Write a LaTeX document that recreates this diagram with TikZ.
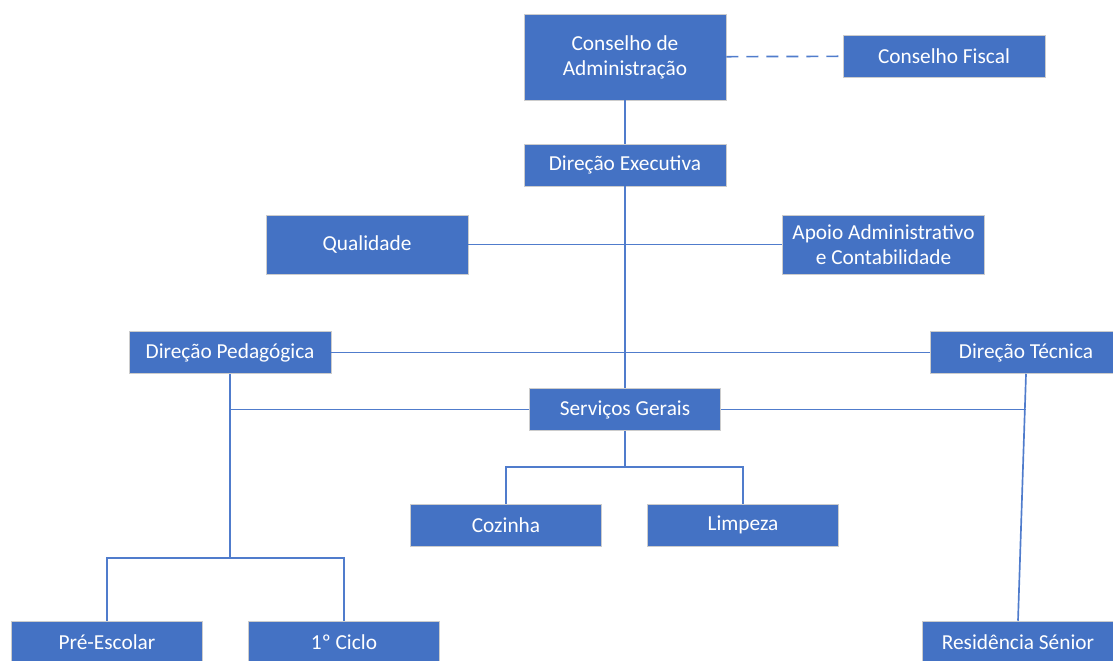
\documentclass[tikz,border=0pt]{standalone}
\usepackage{fontspec}
\setmainfont{Carlito}
\definecolor{orgblue}{RGB}{68,114,196}
\definecolor{orgline}{RGB}{80,124,204}
\tikzset{every picture/.style={line width=0.75pt}}
\tikzset{
  unit/.style={draw=black!20, line width=0.4pt, fill=orgblue, text=white, align=center,
    inner sep=0.75pt, font=\fontsize{16}{18.75}\selectfont, minimum height=31.5pt},
  wide/.style={unit, minimum width=151.5pt},
  narrow/.style={unit, minimum width=143.25pt},
  link/.style={draw=orgline, line width=1.25pt}
}
\begin{document}
\begin{tikzpicture}[x=0.75pt,y=0.75pt,yscale=-1,xscale=1]
\useasboundingbox (0,0) rectangle (1113,660);

%Shape: Rectangle [id:ca]
\node [wide, minimum height=64.5pt] (ca) at (625,57) {Conselho de\\Administração};
%Shape: Rectangle [id:cf]
\node [wide] (cf) at (944,56) {Conselho Fiscal};
%Shape: Rectangle [id:de]
\node [wide] (de) at (625,165) {Direção Executiva};
%Shape: Rectangle [id:qual]
\node [wide, minimum height=44.25pt] (qual) at (367,244.5) {Qualidade};
%Shape: Rectangle [id:apoio]
\node [wide, minimum height=44.25pt] (apoio) at (883.5,244.5) {Apoio Administrativo\\e Contabilidade};
%Shape: Rectangle [id:dp]
\node [wide] (dp) at (230,352.5) {Direção Pedagógica};
%Shape: Rectangle [id:dt]
\node [narrow] (dt) at (1026,352.5) {Direção Técnica};
%Shape: Rectangle [id:sg]
\node [narrow] (sg) at (625,409.5) {Serviços Gerais};
%Shape: Rectangle [id:coz]
\node [narrow] (coz) at (506,525) {Cozinha};
%Shape: Rectangle [id:limp]
\node [narrow] (limp) at (743,525) {Limpeza};
%Shape: Rectangle [id:pe]
\node [narrow] (pe) at (107,642) {Pré-Escolar};
%Shape: Rectangle [id:ciclo]
\node [narrow] (ciclo) at (344,642) {1º Ciclo};
%Shape: Rectangle [id:rs]
\node [narrow] (rs) at (1018,642) {Residência Sénior};

%Junctions
\coordinate (jsg) at (625,467);
\coordinate (jdp) at (230,558);

%Straight Lines [id:dashed]
\draw [link, dash pattern=on 9pt off 6pt] (ca) -- (cf);
%Straight Lines
\draw [link] (ca) -- (de);
\draw [link] (de) -- (sg);
\draw [link] (qual) -- (apoio);
\draw [link] (dp) -- (dt);
\draw [link] (sg.west) -- (sg.west -| dp.south);
\draw [link] (sg.east) -- (sg.east -| dt.south);
\draw [link] (dt.south) -- (rs.north);
\draw [link] (dp.south) -- (jdp);
\draw [link] (jdp) -| (pe.north);
\draw [link] (jdp) -| (ciclo.north);
\draw [link] (sg.south) -- (jsg);
\draw [link] (jsg) -| (coz.north);
\draw [link] (jsg) -| (limp.north);

\end{tikzpicture}
\end{document}
